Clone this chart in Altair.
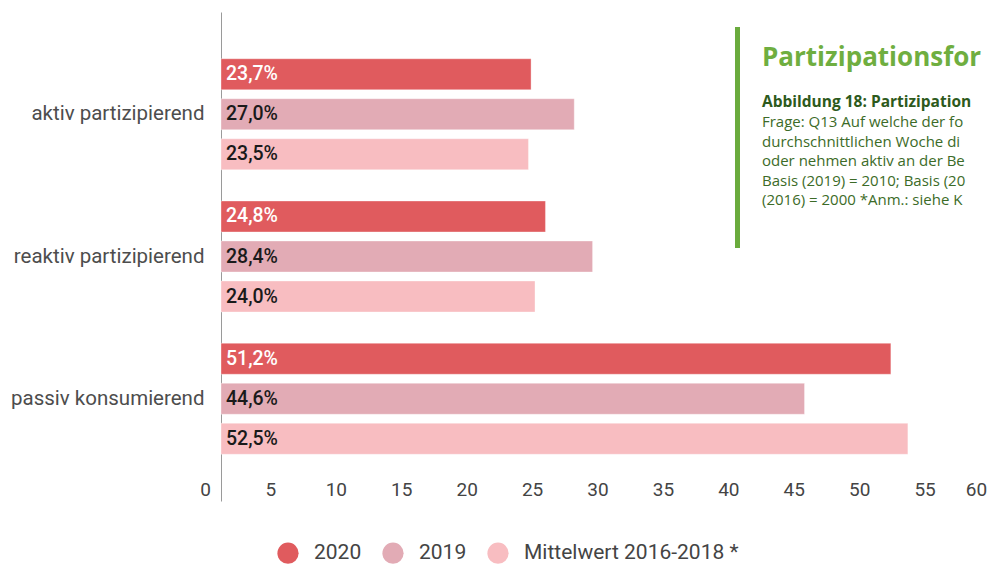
import altair as alt
import pandas as pd

categories = ["aktiv partizipierend", "reaktiv partizipierend", "passiv konsumierend"]
series = ["2020", "2019", "Mittelwert 2016-2018 *"]
values_2020 = [23.7, 24.8, 51.2]
values_2019 = [27.0, 28.4, 44.6]
values_mittel = [23.5, 24.0, 52.5]
colors = ["#e05b5e", "#e2abb5", "#f8bdc1"]
x_ticks = [0, 5, 10, 15, 20, 25, 30, 35, 40, 45, 50, 55, 60]

title_text = "Partizipationsfor"
sub_bold = "Abbildung 18: Partizipation"
sub_lines = [
    "Frage: Q13 Auf welche der fo",
    "durchschnittlichen Woche di",
    "oder nehmen aktiv an der Be",
    "Basis (2019) = 2010; Basis (20",
    "(2016) = 2000 *Anm.: siehe K",
]

rows = []
for s, vals in zip(series, [values_2020, values_2019, values_mittel]):
    for c, v in zip(categories, vals):
        rows.append({"Kategorie": c, "Serie": s, "Wert": v,
                     "Label": f"{v:.1f}".replace(".", ",") + "%"})
df = pd.DataFrame(rows)

y_enc = alt.Y("Kategorie:N", sort=categories, title=None,
              scale=alt.Scale(paddingInner=0.1564, paddingOuter=0.297),
              axis=alt.Axis(domainColor="#9a9a9a", domainWidth=1, ticks=False,
                            labelPadding=17, labelFontSize=20.5, labelColor="#4d4d4d",
                            labelFont="Roboto", labelLimit=300))
yoff = alt.YOffset("Serie:N", sort=series,
                   scale=alt.Scale(paddingInner=0.225, paddingOuter=0.1125))
x_enc = alt.X("Wert:Q", title=None,
              scale=alt.Scale(domain=[0, 60], range=[0, 785], nice=False),
              axis=alt.Axis(values=x_ticks, ticks=False, tickSize=0, domain=False,
                            grid=False,
                            labelOffset={"condition": {"test": "datum.value == 60", "value": -30},
                                         "value": -16},
                            labelPadding=-21,
                            labelFontSize=19, labelColor="#444444", labelFont="Roboto",
                            labelOverlap=False, labelFlush=False))

base = alt.Chart(df)

bars = base.mark_bar(stroke="#ffffff", strokeOpacity=0.35, strokeWidth=1).encode(
    y=y_enc, yOffset=yoff, x=x_enc,
    color=alt.Color("Serie:N", sort=series,
                    scale=alt.Scale(domain=series, range=colors),
                    legend=alt.Legend(title=None, orient="none", legendX=56, legendY=530,
                                      direction="horizontal", symbolType="circle",
                                      symbolSize=450, symbolStrokeWidth=0,
                                      symbolOpacity=1, labelFontSize=21,
                                      labelColor="#444444", labelFont="Roboto",
                                      labelOffset=15, columnPadding=20, labelLimit=400)),
)

labels = base.mark_text(align="left", baseline="middle", dx=5, fontSize=19.5,
                        fontWeight=500, font="Roboto").encode(
    y=alt.Y("Kategorie:N", sort=categories),
    yOffset=alt.YOffset("Serie:N", sort=series),
    x=alt.datum(0),
    text="Label:N",
    color=alt.condition(alt.datum.Serie == "2020", alt.value("#ffffff"),
                        alt.value("#1a1a1a")),
)

one = alt.Data(values=[{"a": 1}])

green_bar = alt.Chart(one).mark_rule(color="#6aab3d", strokeWidth=5).encode(
    x=alt.value(516.5), y=alt.value(15), y2=alt.value(236))

title = alt.Chart(one).mark_text(align="left", baseline="middle", font="Open Sans",
                                 fontSize=26, fontWeight="bold", color="#6fae40").encode(
    x=alt.value(541), y=alt.value(46), text=alt.value(title_text))

sub_b = alt.Chart(one).mark_text(align="left", baseline="middle", font="Open Sans",
                                 fontSize=15.5, fontWeight="bold", color="#2d5a1c").encode(
    x=alt.value(541), y=alt.value(90), text=alt.value(sub_bold))

line_layers = []
for i, t in enumerate(sub_lines):
    line_layers.append(
        alt.Chart(one).mark_text(align="left", baseline="middle", font="Open Sans",
                                 fontSize=15, color="#3c6b28").encode(
            x=alt.value(541), y=alt.value(110 + i * 19.5), text=alt.value(t)))

chart = alt.layer(bars, labels, green_bar, title, sub_b, *line_layers).properties(
    width=767, height=489,
    padding={"left": 213, "top": 4, "right": 0, "bottom": 63},
    autosize=alt.AutoSizeParams(type="none"),
).configure(font="Roboto").configure_view(stroke=None)

chart.save("out.html", embed_options={"renderer": "svg", "actions": False})
